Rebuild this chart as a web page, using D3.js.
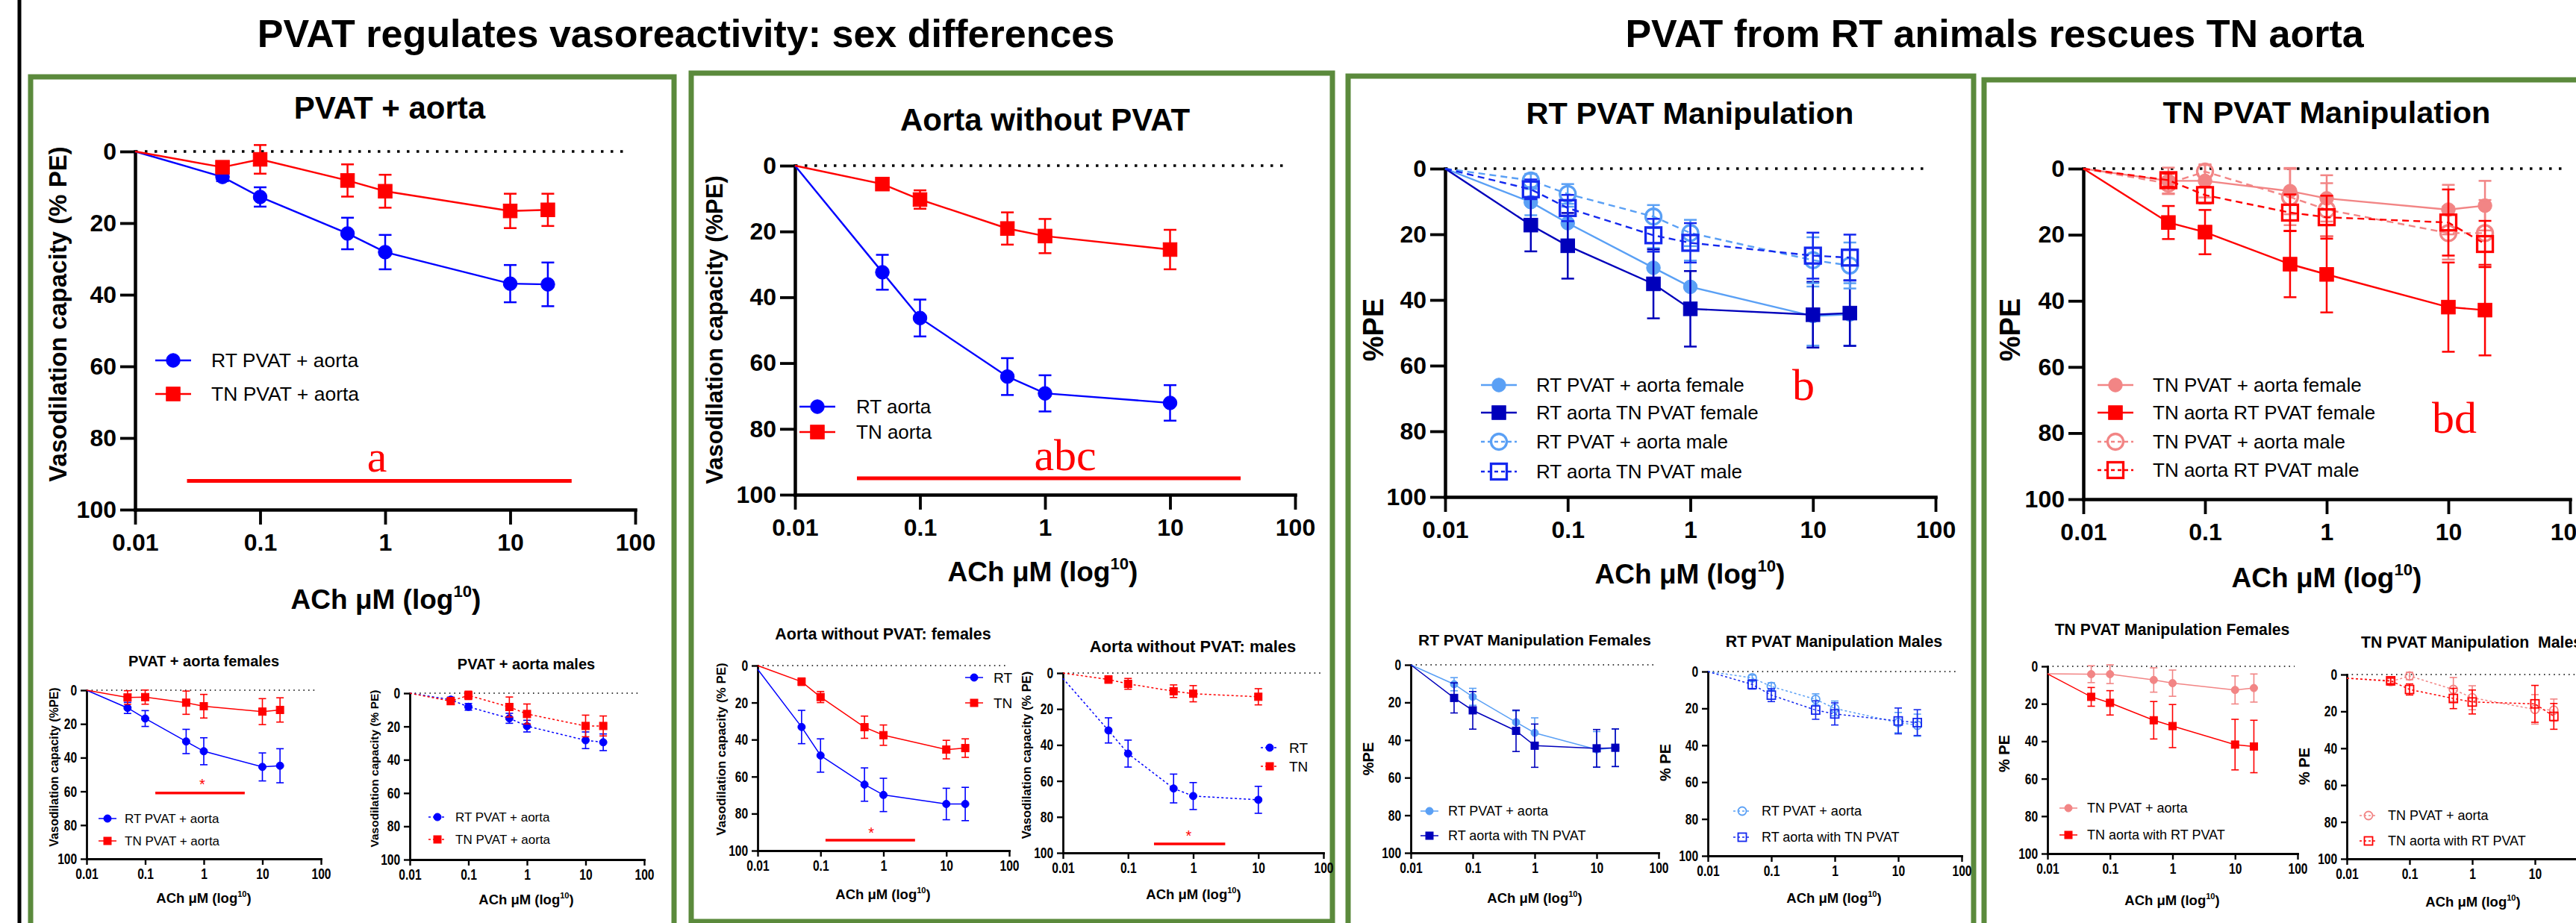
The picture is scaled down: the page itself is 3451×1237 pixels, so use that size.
<!DOCTYPE html>
<html>
<head>
<meta charset="utf-8">
<script src="https://cdn.jsdelivr.net/npm/d3@7"></script>
<style>body{margin:0;background:#fff}</style>
</head>
<body>
<script>
const W = 3451, H = 1237;

// ACh doses (µM); first point is the baseline the curves start from
const doses = [0.01, 0.05, 0.1, 0.5, 1, 10, 20];
const dosesTo10 = [0.01, 0.05, 0.1, 0.5, 1, 10];
const xTicks = [0.01, 0.1, 1, 10, 100];
const yTicks = [0, 20, 40, 60, 80, 100];

// PVAT + aorta
const p1Rt = [0, 7.1, 12.7, 22.9, 28.1, 36.9, 37.1];
const p1RtErr = [0, 1.2, 2.7, 4.4, 4.8, 5.2, 6.1];
const p1Tn = [0, 4.4, 2.2, 8.1, 11.1, 16.6, 16.3];
const p1TnErr = [0, 1.2, 4.0, 4.5, 4.6, 4.8, 4.5];

// Aorta without PVAT
const p2Rt = [0, 32.4, 46.3, 64.1, 69.2, 72.1];
const p2RtErr = [0, 5.3, 5.6, 5.6, 5.5, 5.4];
const p2Tn = [0, 5.6, 10.3, 19.1, 21.4, 25.5];
const p2TnErr = [0, 1.2, 2.8, 4.9, 5.2, 6.0];

// RT PVAT manipulation
const p3RtPvatF = [0, 10.2, 16.6, 30.2, 36.0, 44.9, 44.4];
const p3RtPvatFErr = [0, 4, 5, 6, 8, 9, 9.5];
const p3RtAortaTnF = [0, 17.2, 23.5, 35.1, 42.7, 44.5, 44.0];
const p3RtAortaTnFErr = [0, 8, 10, 10.5, 11.5, 10, 10];
const p3RtPvatM = [0, 3.6, 7.7, 14.6, 19.6, 27.9, 29.5];
const p3RtPvatMErr = [0, 2, 3, 3.5, 4, 7, 7];
const p3RtAortaTnM = [0, 6.3, 12.0, 20.3, 22.6, 26.5, 27.1];
const p3RtAortaTnMErr = [0, 3, 4, 5, 6, 7, 7];

// TN PVAT manipulation
const p4TnPvatF = [0, 3.7, 3.7, 6.8, 9.0, 12.4, 11.2];
const p4TnPvatFErr = [0, 4, 5, 7, 7, 7.5, 7.5];
const p4TnAortaRtF = [0, 16.3, 19.2, 28.9, 32.0, 41.9, 42.8];
const p4TnAortaRtFErr = [0, 5, 6.7, 10, 11.5, 13.5, 13.7];
const p4TnPvatM = [0, 4.5, 0.9, 8.6, 12.4, 19.5, 19.5];
const p4TnPvatMErr = [0, 3, 2, 8.5, 8, 8, 10];
const p4TnAortaRtM = [0, 3.5, 8.0, 13.3, 14.7, 16.3, 22.8];
const p4TnAortaRtMErr = [0, 2, 2.5, 5.5, 6.5, 10, 7];

// small panels
const aRt = [0, 10.5, 16.8, 30.4, 36.2, 45.5, 44.8];
const aRtErr = [0, 3.3, 4.7, 7.2, 8, 8.3, 10.1];
const aTn = [0, 4.3, 4.1, 7.4, 9.5, 12.7, 11.7];
const aTnErr = [0, 4, 4.2, 6.9, 7, 7.7, 7.2];
const bRt = [0, 3.9, 8.2, 15.1, 19.8, 28.3, 29.5];
const bRtErr = [0, 1.5, 2, 3, 3.5, 5, 5];
const bTn = [0, 4.8, 1.3, 8.3, 12.5, 19.7, 19.7];
const bTnErr = [0, 2, 2.5, 6, 6, 6.5, 6];
const cRt = [2, 33.2, 48.6, 64.3, 69.9, 74.8, 74.8];
const cRtErr = [0, 9, 9, 9, 9, 8.5, 9];
const cTn = [0, 8.7, 17.0, 33.3, 37.6, 45.4, 44.6];
const cTnErr = [0, 2, 3, 6, 5.5, 5, 5];
const dRt = [3, 31.9, 44.8, 64.2, 68.4, 70.5];
const dRtErr = [0, 7, 7.5, 8, 7.5, 7.5];
const dTn = [0, 3.6, 6.0, 10.1, 11.5, 13.2];
const dTnErr = [0, 2, 3, 3.5, 4.5, 4.5];
const eRtPvat = [0, 10.3, 17.0, 30.5, 36.2, 45.0, 44.1];
const eRtPvatErr = [0, 3.5, 4.5, 6, 8, 9.5, 10];
const eRtAortaTn = [0, 17.6, 24.2, 35.1, 43.0, 44.4, 44.1];
const eRtAortaTnErr = [0, 8, 10, 11, 11.5, 10, 10];
const fRtPvat = [0, 3.4, 8.1, 15.1, 20.0, 27.7, 29.1];
const fRtPvatErr = [0, 1.5, 2, 3, 4, 5.5, 6];
const fRtAortaTn = [0, 7.0, 12.8, 20.9, 23.0, 26.8, 27.7];
const fRtAortaTnErr = [0, 2.5, 3.5, 5, 6, 7, 7];
const gTnPvat = [4, 4.2, 4.2, 7.3, 9.0, 12.6, 11.6];
const gTnPvatErr = [0, 4.5, 5, 6.5, 7, 7.5, 7.5];
const gTnAortaRt = [4, 16.3, 19.5, 28.8, 31.9, 41.8, 42.8];
const gTnAortaRtErr = [0, 5, 6.5, 10, 11.5, 13.5, 14];
const hTnPvat = [2, 3.8, 0.8, 8.1, 12.6, 18.9, 19.3];
const hTnPvatErr = [0, 2, 2, 6.5, 6.5, 8, 6];
const hTnAortaRt = [2, 3.4, 8.1, 13.0, 14.9, 15.9, 22.7];
const hTnAortaRtErr = [0, 1.5, 3, 5.5, 6.5, 10, 7];

const BLUE = "#0000ff", RED = "#ff0000", LBLUE = "#5aa0f5", DBLUE = "#0000bb",
      MBLUE = "#1428ee", SALMON = "#f28585", GREEN = "#5b8a3c";
const SANS = "Arial, 'Liberation Sans', sans-serif";
const SERIF = "'Times New Roman', 'Liberation Serif', serif";

const s = (name, dose, mean, err, color, shape, open, dash) => ({name, dose, mean, err, color, shape, open, dash});

const panels = [
  {big: true, x0: 181, x1: 851, y0: 203, y1: 683, title: "PVAT + aorta", tx: 522, ty: 159, tsize: 42,
   xlab: [517, 816], ylab: {text: "Vasodilation capacity (% PE)", x: 77, y: 421, size: 33},
   series: [s("RT PVAT + aorta", doses, p1Rt, p1RtErr, BLUE, "circle"),
            s("TN PVAT + aorta", doses, p1Tn, p1TnErr, RED, "square")],
   legend: {cx: 232, ys: [483, 528], tx: 283, size: 26.5},
   sig: {from: 0.026, to: 31, y: 92, label: "a", at: 0.86, ly: 89.4}},
  {big: true, x0: 1065, x1: 1735, y0: 222, y1: 663, title: "Aorta without PVAT", tx: 1400, ty: 175, tsize: 42,
   xlab: [1397, 779], ylab: {text: "Vasodilation capacity (%PE)", x: 957, y: 442, size: 31},
   series: [s("RT aorta", dosesTo10, p2Rt, p2RtErr, BLUE, "circle"),
            s("TN aorta", dosesTo10, p2Tn, p2TnErr, RED, "square")],
   legend: {cx: 1095, ys: [545, 579], tx: 1147, size: 26},
   sig: {from: 0.0313, to: 36.7, y: 95, label: "abc", at: 1.45, ly: 92.5}},
  {big: true, x0: 1936, x1: 2593, y0: 226, y1: 666, title: "RT PVAT Manipulation", tx: 2264, ty: 166, tsize: 41.5,
   xlab: [2264, 782], ylab: {text: "%PE", x: 1840, y: 442, size: 38},
   series: [s("RT PVAT + aorta female", doses, p3RtPvatF, p3RtPvatFErr, LBLUE, "circle"),
            s("RT aorta TN PVAT female", doses, p3RtAortaTnF, p3RtAortaTnFErr, DBLUE, "square"),
            s("RT PVAT + aorta male", doses, p3RtPvatM, p3RtPvatMErr, LBLUE, "circle", true, "9 6"),
            s("RT aorta TN PVAT male", doses, p3RtAortaTnM, p3RtAortaTnMErr, MBLUE, "square", true, "9 6")],
   legend: {cx: 2008, ys: [516, 553, 592, 632], tx: 2058, size: 26},
   sig: {label: "b", at: 8.36, ly: 70.5}},
  {big: true, x0: 2791, x1: 3443, y0: 226, y1: 669, title: "TN PVAT Manipulation", tx: 3117, ty: 165, tsize: 41.5,
   xlab: [3117, 787], ylab: {text: "%PE", x: 2693, y: 442, size: 38},
   series: [s("TN PVAT + aorta female", doses, p4TnPvatF, p4TnPvatFErr, SALMON, "circle"),
            s("TN aorta RT PVAT female", doses, p4TnAortaRtF, p4TnAortaRtFErr, RED, "square"),
            s("TN PVAT + aorta male", doses, p4TnPvatM, p4TnPvatMErr, SALMON, "circle", true, "9 6"),
            s("TN aorta RT PVAT male", doses, p4TnAortaRtM, p4TnAortaRtMErr, RED, "square", true, "9 6")],
   legend: {cx: 2834, ys: [516, 553, 592, 630], tx: 2884, size: 26},
   sig: {label: "bd", at: 11.2, ly: 79.9}},

  {x0: 116, x1: 430, y0: 925, y1: 1151, title: "PVAT + aorta females", tx: 273, ty: 893, tsize: 20,
   xlab: [273, 1210], ylab: {text: "Vasodilation capacity (%PE)", x: 72, y: 1028, size: 16},
   series: [s("RT PVAT + aorta", doses, aRt, aRtErr, BLUE, "circle"),
            s("TN PVAT + aorta", doses, aTn, aTnErr, RED, "square")],
   legend: {cx: 144, ys: [1097, 1127], tx: 167, size: 17},
   sig: {from: 0.149, to: 5.0, y: 61, label: "*", at: 0.94, ly: 59}},
  {x0: 549, x1: 863, y0: 929, y1: 1152, title: "PVAT + aorta males", tx: 705, ty: 897, tsize: 20,
   xlab: [705, 1212], ylab: {text: "Vasodilation capacity (% PE)", x: 501, y: 1030, size: 15.5},
   series: [s("RT PVAT + aorta", doses, bRt, bRtErr, BLUE, "circle", false, "3 3"),
            s("TN PVAT + aorta", doses, bTn, bTnErr, RED, "square", false, "3 3")],
   legend: {cx: 586, ys: [1095, 1125], tx: 610, size: 17},
   sig: null},
  {x0: 1015, x1: 1352, y0: 892, y1: 1140, title: "Aorta without PVAT: females", tx: 1183, ty: 857, tsize: 21.5,
   xlab: [1183, 1205], ylab: {text: "Vasodilation capacity (% PE)", x: 966, y: 1004, size: 17},
   series: [s("RT", doses, cRt, cRtErr, BLUE, "circle"),
            s("TN", doses, cTn, cTnErr, RED, "square")],
   legend: {cx: 1305, ys: [908, 942], tx: 1331, size: 19},
   sig: {from: 0.12, to: 3.18, y: 94.4, label: "*", at: 0.64, ly: 93}},
  {x0: 1424, x1: 1773, y0: 902, y1: 1143, title: "Aorta without PVAT: males", tx: 1598, ty: 874, tsize: 22,
   xlab: [1599, 1205], ylab: {text: "Vasodilation capacity (% PE)", x: 1375, y: 1012, size: 16.5},
   series: [s("RT", dosesTo10, dRt, dRtErr, BLUE, "circle", false, "3 3"),
            s("TN", dosesTo10, dTn, dTnErr, RED, "square", false, "3 3")],
   legend: {cx: 1701, ys: [1002, 1027], tx: 1727, size: 19},
   sig: {from: 0.25, to: 3.1, y: 95, label: "*", at: 0.85, ly: 93.5}},
  {x0: 1890, x1: 2222, y0: 891, y1: 1143, title: "RT PVAT Manipulation Females", tx: 2056, ty: 865, tsize: 21,
   xlab: [2056, 1210], ylab: {text: "%PE", x: 1833, y: 1017, size: 20},
   series: [s("RT PVAT + aorta", doses, eRtPvat, eRtPvatErr, LBLUE, "circle"),
            s("RT aorta with TN PVAT", doses, eRtAortaTn, eRtAortaTnErr, DBLUE, "square")],
   legend: {cx: 1915, ys: [1087, 1120], tx: 1940, size: 18}},
  {x0: 2288, x1: 2628, y0: 900, y1: 1147, title: "RT PVAT Manipulation Males", tx: 2457, ty: 867, tsize: 21.3,
   xlab: [2457, 1210], ylab: {text: "% PE", x: 2231, y: 1022, size: 20},
   series: [s("RT PVAT + aorta", doses, fRtPvat, fRtPvatErr, LBLUE, "circle", true, "3 3"),
            s("RT aorta with TN PVAT", doses, fRtAortaTn, fRtAortaTnErr, MBLUE, "square", true, "3 3")],
   legend: {cx: 2334, ys: [1087, 1122], tx: 2360, size: 18}},
  {x0: 2743, x1: 3078, y0: 893, y1: 1144, title: "TN PVAT Manipulation Females", tx: 2910, ty: 851, tsize: 21.2,
   xlab: [2910, 1213], ylab: {text: "% PE", x: 2685, y: 1010, size: 20},
   series: [s("TN PVAT + aorta", doses, gTnPvat, gTnPvatErr, SALMON, "circle"),
            s("TN aorta with RT PVAT", doses, gTnAortaRt, gTnAortaRtErr, RED, "square")],
   legend: {cx: 2771, ys: [1083, 1119], tx: 2796, size: 18}},
  {x0: 3144, x1: 3480, y0: 904, y1: 1151, title: "TN PVAT Manipulation  Males", tx: 3163, ty: 868, tsize: 21.3, titleStart: true,
   xlab: [3313, 1215], ylab: {text: "% PE", x: 3087, y: 1027, size: 20},
   series: [s("TN PVAT + aorta", doses, hTnPvat, hTnPvatErr, SALMON, "circle", true, "3 3"),
            s("TN aorta with RT PVAT", doses, hTnAortaRt, hTnAortaRtErr, RED, "square", true, "3 3")],
   legend: {cx: 3173, ys: [1093, 1127], tx: 3199, size: 18}}
];

const svg = d3.select("body").append("svg")
    .attr("width", W)
    .attr("height", H)
    .attr("viewBox", [0, 0, W, H]);

svg.append("rect").attr("width", W).attr("height", H).attr("fill", "#fff");

// frame lines
svg.append("line").attr("x1", 26).attr("x2", 26).attr("y1", 0).attr("y2", H)
    .attr("stroke", "#000").attr("stroke-width", 5);

const boxes = [[41, 103, 903, 1270], [926, 98, 1785, 1235], [1806, 102, 2644, 1270], [2658, 107, 3490, 1270]];
svg.append("g").selectAll("rect").data(boxes).join("rect")
    .attr("x", d => d[0]).attr("y", d => d[1])
    .attr("width", d => d[2] - d[0]).attr("height", d => d[3] - d[1])
    .attr("fill", "none").attr("stroke", GREEN).attr("stroke-width", 7);

svg.append("text").attr("x", 919).attr("y", 63).attr("text-anchor", "middle")
    .attr("font-family", SANS).attr("font-weight", "bold").attr("font-size", 52)
    .text("PVAT regulates vasoreactivity: sex differences");
svg.append("text").attr("x", 2672).attr("y", 63).attr("text-anchor", "middle")
    .attr("font-family", SANS).attr("font-weight", "bold").attr("font-size", 52)
    .text("PVAT from RT animals rescues TN aorta");

function label(g, x, y, size, rotate) {
  return g.append("text")
      .attr("transform", `translate(${x},${y})` + (rotate ? " rotate(-90)" : ""))
      .attr("font-family", SANS).attr("font-size", size).attr("fill", "#000");
}

function achLabel(g, x, y, size) {
  const t = label(g, x, y, size).attr("text-anchor", "middle").attr("font-weight", "bold");
  t.append("tspan").text("ACh \u03bcM (log");
  t.append("tspan").attr("font-size", size * 0.6).attr("dy", -size * 0.42).text("10");
  t.append("tspan").attr("dy", size * 0.42).text(")");
}

function drawMarker(g, shape, cx, cy, big, color, open) {
  const sz = big ? (open ? 21 : 18.5) : (open ? 11 : 10);
  const sw = big ? 3.3 : 1.8;
  const m = shape === "circle"
    ? g.append("circle").attr("cx", cx).attr("cy", cy).attr("r", sz / 2)
    : g.append("rect").attr("x", cx - sz / 2).attr("y", cy - sz / 2).attr("width", sz).attr("height", sz);
  m.attr("fill", open ? "none" : color)
   .attr("stroke", color)
   .attr("stroke-width", open ? sw : 1);
}

function drawPanel(p) {
  const big = !!p.big;
  const g = svg.append("g");
  const x = d3.scaleLog().domain([0.01, 100]).range([p.x0, p.x1]);
  const y = d3.scaleLinear().domain([0, 100]).range([p.y0, p.y1]);
  const tickFont = big ? 32 : 20;
  const squeeze = big ? 1 : 0.78;
  const tickLen = big ? 20 : 8;
  const axisW = big ? 4.5 : 2.8;

  // zero reference
  g.append("line")
      .attr("x1", x(0.01)).attr("x2", p.x1 - (big ? 10 : 4))
      .attr("y1", y(0)).attr("y2", y(0))
      .attr("stroke", "#000")
      .attr("stroke-width", big ? 3.5 : 1.6)
      .attr("stroke-dasharray", big ? "3.5 9.5" : "1.6 5");

  const xAxis = g.append("g")
      .attr("transform", `translate(0,${y(100)})`)
      .call(d3.axisBottom(x).tickValues(xTicks).tickFormat(d3.format("~g"))
        .tickSize(tickLen).tickSizeOuter(0).tickPadding(big ? 12 : 5));
  const yAxis = g.append("g")
      .attr("transform", `translate(${x(0.01)},0)`)
      .call(d3.axisLeft(y).tickValues(yTicks)
        .tickSize(tickLen).tickSizeOuter(0).tickPadding(big ? 5 : 8.5));
  [xAxis, yAxis].forEach(a => {
    a.attr("font-family", SANS).attr("font-size", tickFont).attr("font-weight", "bold");
    a.select(".domain").attr("stroke-width", axisW).attr("stroke-linecap", "square");
    a.selectAll(".tick line").attr("stroke-width", axisW * 0.85);
    a.selectAll(".tick text").attr("fill", "#000").attr("transform", squeeze < 1 ? `scale(${squeeze},1)` : null);
  });

  // titles and axis labels
  label(g, p.tx, p.ty, p.tsize)
      .attr("text-anchor", p.titleStart ? "start" : "middle")
      .style("white-space", "pre")
      .attr("font-weight", "bold")
      .text(p.title);
  achLabel(g, p.xlab[0], p.xlab[1], big ? 37 : 18.5);
  label(g, p.ylab.x, p.ylab.y, p.ylab.size, true)
      .attr("text-anchor", "middle").attr("dominant-baseline", "central")
      .attr("font-weight", "bold")
      .text(p.ylab.text);

  const line = d3.line().x(d => x(d[0])).y(d => y(d[1]));
  const capW = big ? 17 : 10;
  const errW = big ? 2.5 : 1.6;

  p.series.forEach(sr => {
    const pts = sr.dose.map((d, i) => [d, sr.mean[i], sr.err[i]]);
    g.append("path")
        .attr("d", line(pts))
        .attr("fill", "none")
        .attr("stroke", sr.color)
        .attr("stroke-width", big ? 2.4 : 1.5)
        .attr("stroke-dasharray", sr.dash || null);
    const eb = g.append("g").attr("stroke", sr.color).attr("stroke-width", errW);
    pts.slice(1).forEach(([d, m, e]) => {
      const cx = x(d);
      eb.append("line").attr("x1", cx).attr("x2", cx).attr("y1", y(m - e)).attr("y2", y(m + e));
      eb.append("line").attr("x1", cx - capW / 2).attr("x2", cx + capW / 2).attr("y1", y(m - e)).attr("y2", y(m - e));
      eb.append("line").attr("x1", cx - capW / 2).attr("x2", cx + capW / 2).attr("y1", y(m + e)).attr("y2", y(m + e));
    });
    pts.slice(1).forEach(([d, m]) => drawMarker(g, sr.shape, x(d), y(m), big, sr.color, sr.open));
  });

  // legend
  const L = p.legend;
  const half = big ? 24 : 12;
  p.series.forEach((sr, i) => {
    const ly = L.ys[i];
    g.append("line").attr("x1", L.cx - half).attr("x2", L.cx + half).attr("y1", ly).attr("y2", ly)
        .attr("stroke", sr.color).attr("stroke-width", big ? 2.4 : 1.5)
        .attr("stroke-dasharray", sr.dash ? (big ? "5 4" : "3 3") : null);
    drawMarker(g, sr.shape, L.cx, ly, big, sr.color, sr.open);
    label(g, L.tx, ly, L.size)
        .attr("dominant-baseline", "central")
        .text(sr.name);
  });

  // significance
  if (p.sig) {
    const sg = p.sig;
    if (sg.from) {
      g.append("line").attr("x1", x(sg.from)).attr("x2", x(sg.to))
          .attr("y1", y(sg.y)).attr("y2", y(sg.y))
          .attr("stroke", RED).attr("stroke-width", big ? 5 : 3.5);
    }
    g.append("text").attr("x", x(sg.at)).attr("y", y(sg.ly))
        .attr("text-anchor", "middle")
        .attr("font-family", big ? SERIF : SANS)
        .attr("font-size", big ? 60 : 20)
        .attr("fill", RED).text(sg.label);
  }
}

panels.forEach(drawPanel);
</script>
</body>
</html>
